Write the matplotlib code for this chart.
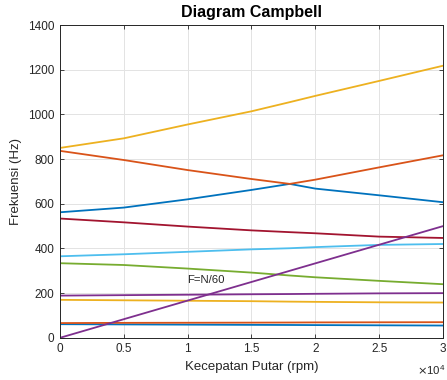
import matplotlib
matplotlib.use('Agg')
import matplotlib.pyplot as plt
from matplotlib.ticker import FuncFormatter

plt.rcParams['font.family'] = ['Liberation Sans', 'DejaVu Sans']

# rotational speed (rpm)
speed = [0, 5000, 10000, 15000, 18000, 20000, 25000, 30000]

# natural frequencies (Hz), in plotting order
mode_1 = [61, 60, 59, 58, 57.5, 57, 56, 55]
mode_2 = [66, 67, 67.5, 68, 68.5, 69, 69.5, 70]
mode_3 = [170, 168, 166, 164, 162, 161, 159, 158]
mode_4 = [189, 191, 193, 195, 196, 197, 199, 200]
mode_5 = [334, 326, 310, 292, 279, 271, 255, 240]
mode_6 = [365, 374, 385, 396, 401, 406, 416, 420]
mode_7 = [534, 517, 498, 481, 473, 468, 453, 447]
mode_8 = [562, 583, 620, 662, 689, 668, 638, 607]
mode_9 = [837, 796, 751, 711, 689, 708, 763, 817]
mode_10 = [850, 893, 955, 1014, 1055, 1083, 1150, 1218]
modes = [mode_1, mode_2, mode_3, mode_4, mode_5, mode_6, mode_7,
         mode_8, mode_9, mode_10]

# excitation line F = N/60
excite_speed = [0, 30000]
excite_freq = [0, 500]

colors = ['#0072BD', '#D95319', '#EDB120', '#7E2F8E', '#77AC30',
          '#4DBEEE', '#A2142F']

fig = plt.figure(figsize=(4.47, 3.80), dpi=100)
ax = fig.add_axes([0.134, 0.111, 0.857, 0.823])

for i, m in enumerate(modes):
    ax.plot(speed, m, color=colors[i % len(colors)], linewidth=1.3)
ax.plot(excite_speed, excite_freq, color=colors[len(modes) % len(colors)],
        linewidth=1.3)
ax.text(10000, 259, 'F=N/60', fontsize=8.2, color='#262626', va='center')

ax.set_xlim(0, 30000)
ax.set_ylim(0, 1400)
ax.set_xticks([0, 5000, 10000, 15000, 20000, 25000, 30000])
ax.set_yticks(range(0, 1401, 200))
ax.xaxis.set_major_formatter(FuncFormatter(lambda v, p: '%g' % (v / 1e4)))

ax.grid(True, color='#e3e3e3', linewidth=0.7)
ax.set_axisbelow(True)
ax.tick_params(direction='in', length=3, labelsize=8.5, colors='#262626',
               width=0.6, top=True, right=True, labeltop=False,
               labelright=False, pad=4)
for s in ax.spines.values():
    s.set_color('#262626')
    s.set_linewidth(0.7)

ax.set_title('Diagram Campbell', fontsize=11.5, fontweight='bold', pad=6)
ax.set_xlabel('Kecepatan Putar (rpm)', fontsize=9.5, color='#262626', labelpad=4)
ax.set_ylabel('Frekuensi (Hz)', fontsize=9.5, color='#262626', labelpad=4)
fig.text(0.933, 0.027, r'$\times\mathdefault{10^4}$', fontsize=8.2,
         color='#262626', ha='left', va='center')

fig.savefig('out.png', dpi=100)
